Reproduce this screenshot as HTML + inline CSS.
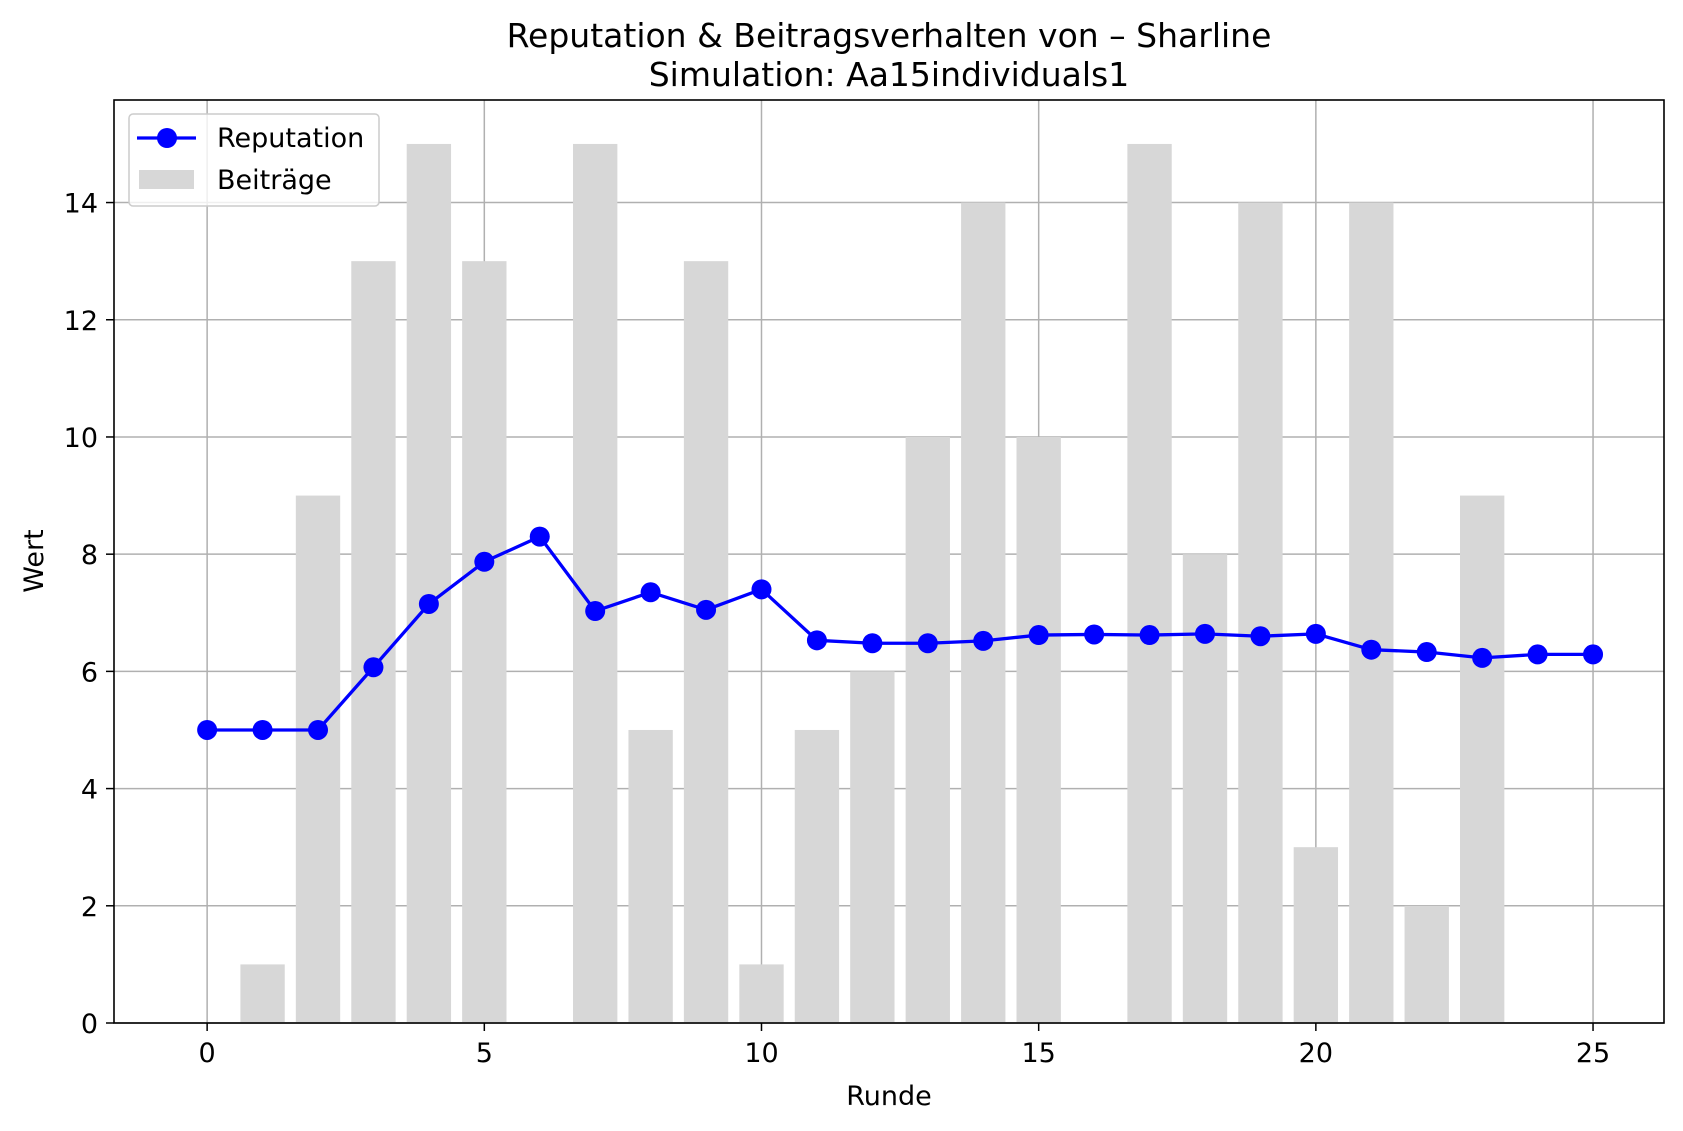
<!DOCTYPE html>
<html><head><meta charset="utf-8"><style>
body{margin:0;background:#fff;}
svg{display:block;font-family:"DejaVu Sans","Liberation Sans",sans-serif;}
</style></head><body>
<svg id="chart" width="1683" height="1131" viewBox="0 0 1683 1131" xmlns="http://www.w3.org/2000/svg">
<rect x="0" y="0" width="1683" height="1131" fill="#fff"/>
<text x="889" y="47" font-size="33" text-anchor="middle">Reputation &amp; Beitragsverhalten von – Sharline</text>
<text x="889" y="86" font-size="33" text-anchor="middle">Simulation: Aa15individuals1</text>
<g id="grid"></g>
<g id="bars"></g>
<g id="line"></g>
<rect x="114" y="100" width="1550" height="923" fill="none" stroke="#000" stroke-width="1.6"/>
<g id="ticks"></g>
<text x="889" y="1105" font-size="27" text-anchor="middle">Runde</text>
<text x="43" y="561" font-size="27" text-anchor="middle" transform="rotate(-90 43 561)">Wert</text>
<g>
<rect x="129" y="114" width="250" height="92" rx="4" fill="#fff" fill-opacity="0.8" stroke="#ccc" stroke-width="1.5"/>
<g>
<line x1="137" y1="138" x2="196" y2="138" stroke="#0000ff" stroke-width="3.3"/>
<circle cx="167" cy="138" r="10" fill="#0000ff"/>
<text x="217" y="147" font-size="27">Reputation</text>
</g>
<g>
<rect x="139" y="170" width="55" height="19" fill="#d7d7d7"/>
<text x="217" y="189" font-size="27">Beiträge</text>
</g>
</g>
</svg>
<script>
const rounds = [0,1,2,3,4,5,6,7,8,9,10,11,12,13,14,15,16,17,18,19,20,21,22,23,24,25];
const contributions = [0,1,9,13,15,13,0,15,5,13,1,5,6,10,14,10,0,15,8,14,3,14,2,9,0,0];
const reputation = [5,5,5,6.07,7.15,7.87,8.3,7.03,7.35,7.05,7.4,6.53,6.48,6.48,6.52,6.62,6.63,6.62,6.64,6.6,6.64,6.37,6.33,6.23,6.29,6.29];
const xTicks = [0,5,10,15,20,25];
const yTicks = [0,2,4,6,8,10,12,14];

const NS='http://www.w3.org/2000/svg';
const L=114,R=1664,T=100,B=1023,XMIN=-1.68,XMAX=26.28,YMIN=0,YMAX=15.75;
const xs=v=>L+(v-XMIN)/(XMAX-XMIN)*(R-L);
const ys=v=>B-(v-YMIN)/(YMAX-YMIN)*(B-T);
function mk(tag,attrs,parent){const e=document.createElementNS(NS,tag);for(const k in attrs)e.setAttribute(k,attrs[k]);parent.appendChild(e);return e;}
const grid=document.getElementById('grid'),bars=document.getElementById('bars'),line=document.getElementById('line'),ticks=document.getElementById('ticks');

xTicks.forEach(v=>{
  const g=mk('line',{x1:xs(v),x2:xs(v),y1:T,y2:B,stroke:'#b0b0b0','stroke-width':1.5},grid);
  
  
  mk('line',{x1:xs(v),x2:xs(v),y1:B,y2:B+8,stroke:'#000','stroke-width':1.5},ticks);
  const t=mk('text',{x:xs(v),y:B+39,'font-size':27,'text-anchor':'middle'},ticks);
  t.textContent=v;
  
  
});
yTicks.forEach(v=>{
  const g=mk('line',{x1:L,x2:R,y1:ys(v),y2:ys(v),stroke:'#b0b0b0','stroke-width':1.5},grid);
  
  
  mk('line',{x1:L-8,x2:L,y1:ys(v),y2:ys(v),stroke:'#000','stroke-width':1.5},ticks);
  const t=mk('text',{x:L-16,y:ys(v)+10,'font-size':27,'text-anchor':'end'},ticks);
  t.textContent=v;
  
  
});
rounds.forEach((r,i)=>{
  const c=contributions[i];
  if(c>0){
    const b=mk('rect',{x:xs(r-0.4),y:ys(c),width:xs(r+0.4)-xs(r-0.4),height:ys(0)-ys(c),fill:'#d7d7d7'},bars);
    
    
  }
});
const pts=rounds.map((r,i)=>xs(r)+','+ys(reputation[i])).join(' ');
const pl=mk('polyline',{points:pts,fill:'none',stroke:'#0000ff','stroke-width':3.3,'stroke-linejoin':'round'},line);


rounds.forEach((r,i)=>{
  const c=mk('circle',{cx:xs(r),cy:ys(reputation[i]),r:10,fill:'#0000ff'},line);
  
  
});
</script>
</body></html>
